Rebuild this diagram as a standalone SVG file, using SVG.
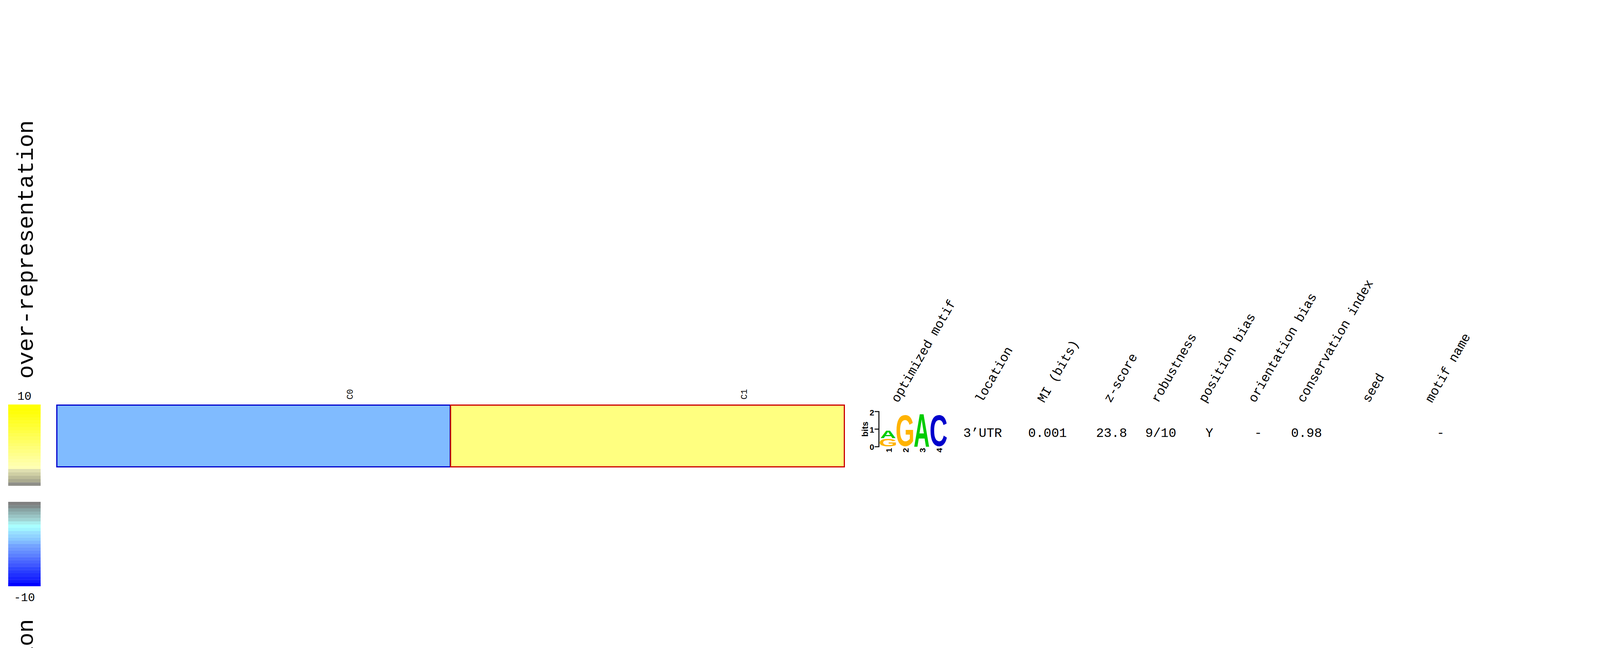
<svg xmlns="http://www.w3.org/2000/svg" width="4979" height="1658" viewBox="0 0 4979 1658" overflow="hidden" style="overflow:hidden">
<style>
svg{overflow:hidden}
.mono{font-family:"Liberation Mono","Courier New",monospace;fill:#000}
.hdr{font-size:33px}
.val{font-size:33px}
.bold{font-family:"Liberation Sans",Arial,Helvetica,sans-serif;font-weight:bold;fill:#000}
.logo{font-family:"Liberation Sans",Arial,Helvetica,sans-serif;font-weight:bold;font-size:100px;text-anchor:middle}
</style>
<defs>
  <clipPath id="canvas"><rect x="0" y="0" width="4979" height="1658"/></clipPath>
</defs>
<rect x="0" y="0" width="4979" height="1658" fill="#ffffff"/>
<g id="legend">
  <text class="mono" font-size="58" transform="translate(84,969) rotate(-90)">over-representation</text>
  <g clip-path="url(#canvas)">
    <text class="mono" font-size="58" text-anchor="end" transform="translate(84,1584) rotate(-90)">under-representation</text>
  </g>
  <text class="mono" font-size="30" x="62.5" y="1023" text-anchor="middle">10</text>
  <text class="mono" font-size="30" x="62.5" y="1538" text-anchor="middle">-10</text>
  <g id="colorbar-over">
    <rect x="21" y="1035" width="83" height="8.6" fill="#ffff00"/>
    <rect x="21" y="1043.25" width="83" height="8.6" fill="#ffff00"/>
    <rect x="21" y="1051.5" width="83" height="8.6" fill="#ffff0a"/>
    <rect x="21" y="1059.75" width="83" height="8.6" fill="#ffff14"/>
    <rect x="21" y="1068" width="83" height="8.6" fill="#ffff1e"/>
    <rect x="21" y="1076.25" width="83" height="8.6" fill="#ffff28"/>
    <rect x="21" y="1084.5" width="83" height="8.6" fill="#ffff32"/>
    <rect x="21" y="1092.75" width="83" height="8.6" fill="#ffff3c"/>
    <rect x="21" y="1101" width="83" height="8.6" fill="#ffff46"/>
    <rect x="21" y="1109.25" width="83" height="8.6" fill="#ffff50"/>
    <rect x="21" y="1117.5" width="83" height="8.6" fill="#ffff5a"/>
    <rect x="21" y="1125.75" width="83" height="8.6" fill="#ffff64"/>
    <rect x="21" y="1134" width="83" height="8.6" fill="#ffff6e"/>
    <rect x="21" y="1142.25" width="83" height="8.6" fill="#ffff78"/>
    <rect x="21" y="1150.5" width="83" height="8.6" fill="#ffff82"/>
    <rect x="21" y="1158.75" width="83" height="8.6" fill="#ffff8c"/>
    <rect x="21" y="1167" width="83" height="8.6" fill="#ffff96"/>
    <rect x="21" y="1175.25" width="83" height="8.6" fill="#ffffa0"/>
    <rect x="21" y="1183.5" width="83" height="8.6" fill="#ffffaa"/>
    <rect x="21" y="1191.75" width="83" height="8.6" fill="#ffffb4"/>
    <rect x="21" y="1200" width="83" height="8.9" fill="#dfdfb0"/>
    <rect x="21" y="1208.6" width="83" height="8.9" fill="#cfcfa4"/>
    <rect x="21" y="1217.2" width="83" height="8.9" fill="#bdbd98"/>
    <rect x="21" y="1225.8" width="83" height="8.9" fill="#abab90"/>
    <rect x="21" y="1234.4" width="83" height="8.6" fill="#8f8f88"/>
  </g>
  <g id="colorbar-under">
    <rect x="21" y="1284" width="83" height="8.6" fill="#808080"/>
    <rect x="21" y="1292.3" width="83" height="8.6" fill="#7f8a8a"/>
    <rect x="21" y="1300.6" width="83" height="8.6" fill="#88a4a4"/>
    <rect x="21" y="1308.9" width="83" height="8.6" fill="#90b4b4"/>
    <rect x="21" y="1317.2" width="83" height="8.6" fill="#98c4c4"/>
    <rect x="21" y="1325.5" width="83" height="8.6" fill="#a0d4d4"/>
    <rect x="21" y="1333.9" width="83" height="8.6" fill="#a8eeee"/>
    <rect x="21" y="1342.2" width="83" height="8.6" fill="#a8ffff"/>
    <rect x="21" y="1350.5" width="83" height="8.6" fill="#a0f4ff"/>
    <rect x="21" y="1358.8" width="83" height="8.6" fill="#98e0ff"/>
    <rect x="21" y="1367.1" width="83" height="8.6" fill="#90d4ff"/>
    <rect x="21" y="1375.4" width="83" height="8.6" fill="#88c8ff"/>
    <rect x="21" y="1383.7" width="83" height="8.6" fill="#80b8ff"/>
    <rect x="21" y="1392" width="83" height="8.6" fill="#74a4ff"/>
    <rect x="21" y="1400.3" width="83" height="8.6" fill="#6c98ff"/>
    <rect x="21" y="1408.7" width="83" height="8.6" fill="#648cff"/>
    <rect x="21" y="1417" width="83" height="8.6" fill="#5c80ff"/>
    <rect x="21" y="1425.3" width="83" height="8.6" fill="#5070ff"/>
    <rect x="21" y="1433.6" width="83" height="8.6" fill="#4864ff"/>
    <rect x="21" y="1441.9" width="83" height="8.6" fill="#4058ff"/>
    <rect x="21" y="1450.2" width="83" height="8.6" fill="#3048ff"/>
    <rect x="21" y="1458.5" width="83" height="8.6" fill="#283cff"/>
    <rect x="21" y="1466.8" width="83" height="8.6" fill="#2030ff"/>
    <rect x="21" y="1475.1" width="83" height="8.6" fill="#1824ff"/>
    <rect x="21" y="1483.4" width="83" height="8.6" fill="#1018ff"/>
    <rect x="21" y="1491.7" width="83" height="8.3" fill="#0000ff"/>
  </g>
</g>
<g id="cluster-C0">
  <rect x="145.5" y="1036.5" width="1007" height="158" fill="#80bbff" stroke="#0000cc" stroke-width="3"/>
  <text class="mono" font-size="22" transform="translate(903,1022) rotate(-90)">C0</text>
</g>
<g id="cluster-C1">
  <rect x="1153.5" y="1036.5" width="1008" height="158" fill="#ffff80" stroke="#cc0000" stroke-width="3"/>
  <text class="mono" font-size="22" transform="translate(1912,1022) rotate(-90)">C1</text>
</g>
<g id="motif-logo">
  <g stroke="#000" stroke-width="2.5" fill="none">
    <line x1="2250" y1="1052" x2="2250" y2="1144"/>
    <line x1="2239" y1="1053" x2="2251" y2="1053"/>
    <line x1="2239" y1="1098" x2="2251" y2="1098"/>
    <line x1="2239" y1="1143" x2="2251" y2="1143"/>
  </g>
  <text class="bold" font-size="21" x="2238" y="1063" text-anchor="end">2</text>
  <text class="bold" font-size="21" x="2238" y="1107" text-anchor="end">1</text>
  <text class="bold" font-size="21" x="2238" y="1151" text-anchor="end">0</text>
  <text class="bold" font-size="22" text-anchor="middle" transform="translate(2222,1098) rotate(-90)">bits</text>
  <text class="logo" fill="#ffb300" transform="translate(2273.5,1142.3) scale(0.613,0.278)">G</text>
  <text class="logo" fill="#00cc00" transform="translate(2273.5,1120.5) scale(0.568,0.279)">A</text>
  <text class="logo" fill="#ffb300" transform="translate(2317,1140.8) scale(0.628,1.138)">G</text>
  <text class="logo" fill="#00cc00" transform="translate(2359.5,1143) scale(0.568,1.198)">A</text>
  <text class="logo" fill="#0000cc" transform="translate(2402.5,1140.8) scale(0.64,1.138)">C</text>
  <text class="bold" font-size="21" text-anchor="middle" transform="translate(2283,1152) rotate(-90)">1</text>
  <text class="bold" font-size="21" text-anchor="middle" transform="translate(2326,1152) rotate(-90)">2</text>
  <text class="bold" font-size="21" text-anchor="middle" transform="translate(2369,1152) rotate(-90)">3</text>
  <text class="bold" font-size="21" text-anchor="middle" transform="translate(2412,1152) rotate(-90)">4</text>
</g>
<g id="column-headers" class="mono hdr">
  <text transform="translate(2299,1032) rotate(-60)">optimized motif</text>
  <text transform="translate(2514,1032) rotate(-60)">location</text>
  <text transform="translate(2673,1032) rotate(-60)">MI (bits)</text>
  <text transform="translate(2843,1032) rotate(-60)">z-score</text>
  <text transform="translate(2965,1032) rotate(-60)">robustness</text>
  <text transform="translate(3086,1032) rotate(-60)">position bias</text>
  <text transform="translate(3213,1032) rotate(-60)">orientation bias</text>
  <text transform="translate(3338,1032) rotate(-60)">conservation index</text>
  <text transform="translate(3505,1032) rotate(-60)">seed</text>
  <text transform="translate(3666,1032) rotate(-60)">motif name</text>
  <text transform="translate(4430,1032) rotate(-60)">protein array</text>
</g>
<g id="row-values" class="mono val">
  <text x="2466" y="1118">3’UTR</text>
  <text x="2632" y="1118">0.001</text>
  <text x="2806" y="1118">23.8</text>
  <text x="2932" y="1118">9/10</text>
  <text x="3086" y="1118">Y</text>
  <text x="3211" y="1118">-</text>
  <text x="3305" y="1118">0.98</text>
  <text x="3678" y="1118">-</text>
  <text x="4446" y="1118">-</text>
</g>
</svg>
